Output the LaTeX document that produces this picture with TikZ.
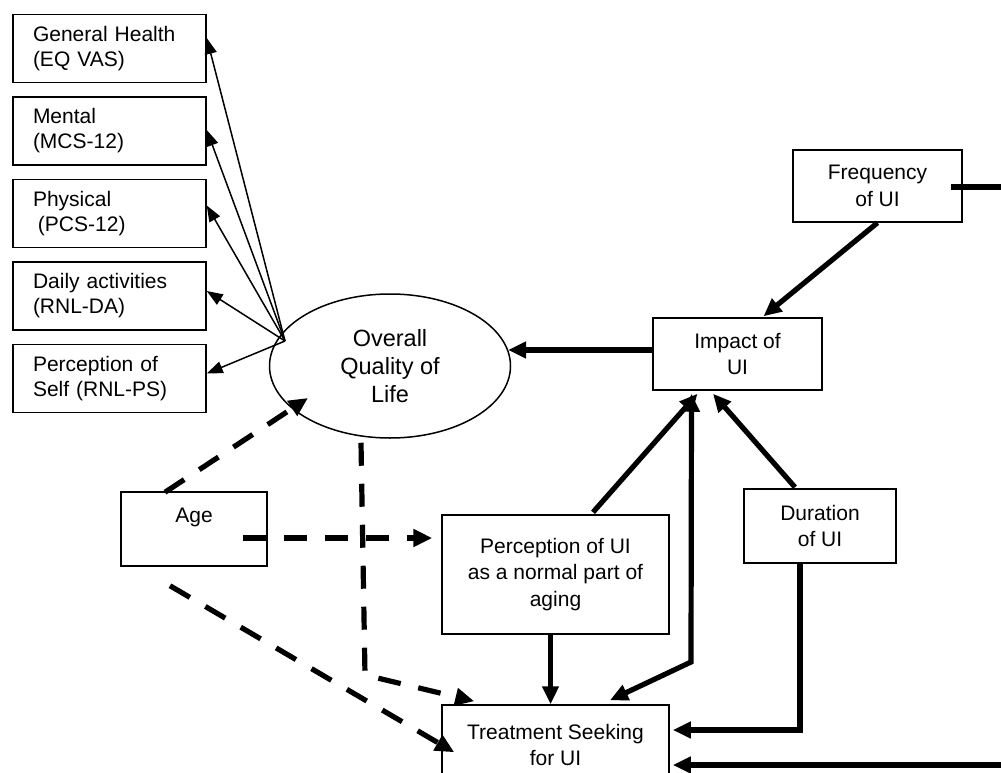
\documentclass[tikz,border=0pt]{standalone}
\usepackage{fontspec}
\setmainfont{Liberation Sans}
\usetikzlibrary{arrows.meta, positioning, calc, shapes.geometric}
\tikzset{
x=1pt, y=-1pt,
node distance=13pt,
>={Triangle[length=18pt,width=16pt]},
box/.style={%
    rectangle,
    draw=black,
    line width=1.5pt,
    align=center,
    % Font
    font=\fontsize{21}{26.5}\selectfont
},
lbox/.style={%
    box, align=left, text width=153pt, inner xsep=20pt, minimum height=68pt,
    font=\fontsize{21}{25}\selectfont
},
oval/.style={%
    ellipse, draw=black, line width=1.5pt, inner sep=0pt,
    minimum width=241pt, minimum height=144pt, align=center,
    font=\fontsize{23.5}{28}\selectfont
},
fan/.style={line width=1.5pt, -{Triangle[length=16pt,width=12pt]}},
heavy/.style={line width=5.2pt},
broken/.style={line width=5.2pt, dash pattern=on 23pt off 18pt, -{Triangle[length=19pt,width=17pt]}},
}

\begin{document}
\begin{tikzpicture}
	\useasboundingbox[fill=white] (0,0) rectangle (1001,773);
	\clip (0,0) rectangle (1001,773);
	% outcome measures
	\node[lbox] (gh) at (109.5,48.5) {General Health\\(EQ VAS)};
	\node[lbox, below=of gh] (mcs) {Mental\\(MCS-12)};
	\node[lbox, below=of mcs] (pcs) {Physical\\\hspace*{5pt}(PCS-12)};
	\node[lbox, below=of pcs] (da) {Daily activities\\(RNL-DA)};
	\node[lbox, below=of da] (ps) {Perception of\\Self (RNL-PS)};
	\node[oval] (ql) at (390,366) {Overall\\Quality of\\Life};
	% UI boxes
	\node[box, minimum width=169pt, minimum height=72pt] (freq) at (877.5,186) {Frequency\\of UI};
	\node[box, minimum width=169pt, minimum height=72pt] (imp) at (737.5,354) {Impact of\\UI};
	\node[box, minimum width=152pt, minimum height=74pt] (dur) at (820,526) {Duration\\of UI};
	\node[box, minimum width=227pt, minimum height=119pt] (pui) at (555.5,574.5) {Perception of UI\\as a normal part of\\aging};
	\node[box, minimum width=227pt, minimum height=80pt] (ts) at (555.5,745) {Treatment Seeking\\for UI};
	\node[box, minimum width=146pt, minimum height=74pt] (age) at (194,529) {};
	\node[font=\fontsize{21}{26.5}\selectfont] (agetext) at ($(age.north)+(0,26)$) {Age};
	\coordinate (fan) at ($(ql.center)+(-105,-25)$);
	\coordinate (kink) at (691,662);
	\coordinate (qlbend) at (365,675);
	\coordinate (rout) at (1001,187);
	\coordinate (rin) at (1001,765);

	% fan of measures
	\foreach \n/\d in {gh/-10.5, mcs/-1, pcs/-8, da/-5, ps/-5}
		\draw[fan] (fan) -- ($(\n.east)+(0,\d)$);

	% solid paths
	\draw[heavy,->] ($(imp.west)+(0,-4)$) -- ($(ql.center)+(118,-16)$);
	\draw[heavy,->] (freq.south) -- ($(imp.north)+(26,-1)$);
	\draw[heavy] ($(freq.east)+(-12,1)$) -- (rout);
	\draw[heavy,->] ($(pui.north)+(37.5,-2)$) -- ($(imp.south)+(-40,3)$);
	\draw[heavy,->] ($(dur.north)+(-25,-1)$) -- ($(imp.south)+(-24.5,3)$);
	\draw[heavy,<->] ($(ts.north)+(54.5,-4)$) -- (kink) -- ($(imp.south)+(-46,3)$);
	\draw[heavy,->] ($(pui.south)+(-5,0)$) -- ($(ts.north)+(-5,0)$);
	\draw[heavy,->] ($(dur.south)+(-20,0)$) |- ($(ts.east)+(3,-15)$);
	\draw[heavy,->] (rin) -- ($(ts.east)+(3,20)$);

	% dashed paths
	\draw[broken] ($(age.north)+(-29,1)$) -- ($(ql.center)+(-82,32)$);
	\draw[broken] ($(age.east)+(-25,9)$) -- ($(pui.west)+(-9,-36.5)$);
	\draw[broken] ($(age.south)+(-24,19)$) -- ($(ts.north west)+(13,48)$);
	\draw[broken] ($(ql.south)+(-29,4)$) -- (qlbend) -- ($(ts.north west)+(33,-3)$);
\end{tikzpicture}
\end{document}
